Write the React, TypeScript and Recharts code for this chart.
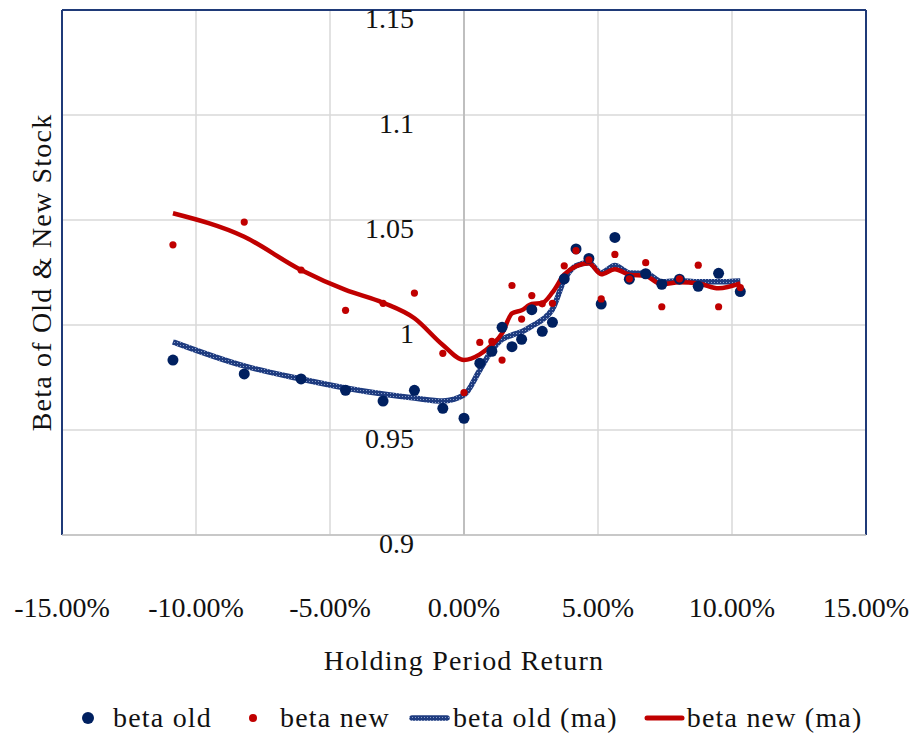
import { ComposedChart, Scatter, Line, XAxis, YAxis, CartesianGrid, ReferenceLine, Legend } from "recharts";

// holding period return, in percent
const returns = [
  -10.86, -8.2, -6.08, -4.42, -3.02, -1.85, -0.79, 0.0, 0.59, 1.04, 1.42, 1.79, 2.15, 2.53,
  2.92, 3.3, 3.74, 4.18, 4.66, 5.12, 5.63, 6.17, 6.78, 7.38, 8.04, 8.74, 9.5, 10.31,
];
const betaOld = [
  0.9833, 0.9767, 0.9743, 0.9689, 0.9638, 0.9689, 0.9603, 0.9556, 0.9818, 0.9875, 0.9989, 0.9897,
  0.9932, 1.0073, 0.997, 1.0013, 1.022, 1.0362, 1.0317, 1.01, 1.0417, 1.0218, 1.0244, 1.0194,
  1.0218, 1.0184, 1.0246, 1.0159,
];
const betaNew = [
  1.0382, 1.049, 1.0262, 1.007, 1.0103, 1.0152, 0.9865, 0.9678, 0.9917, 0.9922, 0.9833, 1.0188,
  1.0028, 1.014, 1.0101, 1.0103, 1.0282, 1.0354, 1.031, 1.0124, 1.0336, 1.022, 1.0297, 1.0087,
  1.022, 1.0285, 1.0087, 1.0178,
];
const betaOldMa = [
  0.992, 0.9805, 0.9743, 0.97, 0.9671, 0.9652, 0.9638, 0.9667, 0.9786, 0.988, 0.9932, 0.9952,
  0.9968, 0.9995, 1.0025, 1.0075, 1.0214, 1.0282, 1.0296, 1.0248, 1.0283, 1.0248, 1.0246, 1.0206,
  1.0211, 1.0206, 1.0206, 1.021,
];
const betaNewMa = [
  1.0532, 1.042, 1.0262, 1.0167, 1.0106, 1.0032, 0.9905, 0.9833, 0.986, 0.9905, 0.996, 1.0055,
  1.007, 1.01, 1.0105, 1.0155, 1.024, 1.028, 1.0294, 1.0242, 1.0266, 1.024, 1.0233, 1.0194,
  1.0203, 1.0198, 1.0175, 1.0198,
];
const xTicks = [-15, -10, -5, 0, 5, 10, 15];
const yTicks = [0.9, 0.95, 1, 1.05, 1.1, 1.15];

const data = returns.map((x, i) => ({
  x,
  betaOld: betaOld[i],
  betaNew: betaNew[i],
  betaOldMa: betaOldMa[i],
  betaNewMa: betaNewMa[i],
}));

const FONT = '"Liberation Serif", "Times New Roman", serif';
const NAVY = "#002060";
const RED = "#c00000";
const FRAME = "#1f3a78";
const GRID = "#d9d9d9";

// y labels sit just left of the x=0 axis
const Y_LABEL_X = 414;
const X_LABEL_Y = 607;

const XTick = ({ x, payload }: any) => (
  <text x={x} y={X_LABEL_Y} dy="0.355em" textAnchor="middle" fontFamily={FONT} fontSize={28} fill="#111">
    {`${payload.value.toFixed(2)}%`}
  </text>
);

const YTick = ({ y, payload }: any) => (
  <text x={Y_LABEL_X} y={y + 8} dy="0.355em" textAnchor="end" fontFamily={FONT} fontSize={28} fill="#111">
    {String(payload.value)}
  </text>
);

const oldDot = (p: any) => <circle cx={p.cx} cy={p.cy} r={5.5} fill={NAVY} />;
const newDot = (p: any) => <circle cx={p.cx} cy={p.cy} r={3.6} fill={RED} />;

const legendText = { fontFamily: FONT, fontSize: 28, letterSpacing: 1.2, color: "#111", lineHeight: 1 };

const LegendRow = () => (
  <div style={{ display: "flex", alignItems: "center", paddingLeft: 82, height: 36 }}>
    <span style={{ width: 12, height: 12, borderRadius: 6, background: NAVY, marginRight: 19 }} />
    <span style={legendText}>beta old</span>
    <span style={{ width: 8, height: 8, borderRadius: 4, background: RED, marginLeft: 37, marginRight: 23 }} />
    <span style={legendText}>beta new</span>
    <svg width={41} height={8} style={{ marginLeft: 19, marginRight: 3 }}>
      <line x1={3} y1={4} x2={38} y2={4} stroke="url(#hatchOld)" strokeWidth={5.5} strokeLinecap="round" />
    </svg>
    <span style={legendText}>beta old (ma)</span>
    <svg width={41} height={8} style={{ marginLeft: 26, marginRight: 2 }}>
      <line x1={3} y1={4} x2={38} y2={4} stroke={RED} strokeWidth={5} strokeLinecap="round" />
    </svg>
    <span style={legendText}>beta new (ma)</span>
  </div>
);

export default function App() {
  return (
    <div style={{ position: "absolute", left: 0, top: 0, background: "#fff" }}>
      <ComposedChart width={915} height={736} data={data} margin={{ top: 10, right: 49, left: 0, bottom: 0 }}>
        <defs>
          <pattern id="hatchOld" width="3" height="3" patternUnits="userSpaceOnUse">
            <rect width="3" height="3" fill="#1f3c80" />
            <rect width="1" height="1" fill="#8b9fc9" />
          </pattern>
        </defs>
        <CartesianGrid stroke={GRID} strokeWidth={1.5} />
        <XAxis
          type="number"
          dataKey="x"
          domain={[-15, 15]}
          ticks={xTicks}
          height={201}
          tickLine={false}
          axisLine={{ stroke: "#bfbfbf", strokeWidth: 1.5 }}
          tick={<XTick />}
          label={() => (
            <text x={464} y={670} textAnchor="middle" fontFamily={FONT} fontSize={28} letterSpacing={1.2} fill="#111">
              Holding Period Return
            </text>
          )}
        />
        <YAxis
          type="number"
          domain={[0.9, 1.15]}
          ticks={yTicks}
          width={62}
          tickLine={false}
          axisLine={false}
          tick={<YTick />}
          label={() => (
            <text
              x={41}
              y={272.5}
              dy="0.355em"
              transform="rotate(-90 41 272.5)"
              textAnchor="middle"
              fontFamily={FONT}
              fontSize={28}
              letterSpacing={1.2}
              fill="#111"
            >
              Beta of Old &amp; New Stock
            </text>
          )}
        />
        <ReferenceLine x={0} stroke="#bfbfbf" strokeWidth={2} />
        <ReferenceLine x={-15} stroke={FRAME} strokeWidth={2} />
        <ReferenceLine x={15} stroke={FRAME} strokeWidth={2} />
        <ReferenceLine y={1.15} stroke={FRAME} strokeWidth={2} />
        <Scatter dataKey="betaOld" fill={NAVY} shape={oldDot} isAnimationActive={false} />
        <Scatter dataKey="betaNew" fill={RED} shape={newDot} isAnimationActive={false} />
        <Line
          type="monotone"
          dataKey="betaOldMa"
          stroke="url(#hatchOld)"
          strokeWidth={5.5}
          dot={false}
          activeDot={false}
          isAnimationActive={false}
        />
        <Line
          type="monotone"
          dataKey="betaNewMa"
          stroke={RED}
          strokeWidth={4.5}
          dot={false}
          activeDot={false}
          isAnimationActive={false}
        />
        <Legend
          layout="horizontal"
          align="center"
          verticalAlign="middle"
          wrapperStyle={{ top: 700, left: 0, width: 915, height: 36 }}
          content={<LegendRow />}
        />
      </ComposedChart>
    </div>
  );
}
